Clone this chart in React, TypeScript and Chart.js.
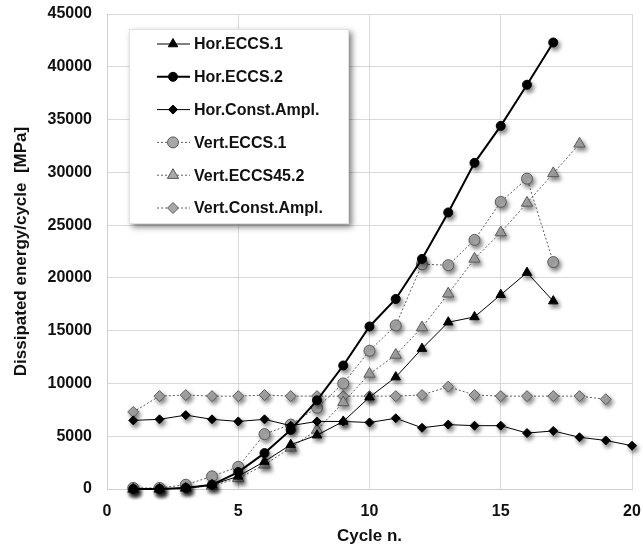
import { useEffect, useRef } from 'react';
import { Chart, registerables } from 'chart.js';
import { drawPoint } from 'chart.js/helpers';

Chart.register(...registerables);

const cycles = [1, 2, 3, 4, 5, 6, 7, 8, 9, 10, 11, 12, 13, 14, 15, 16, 17, 18, 19, 20];

const horECCS1 = [0, 0, 100, 400, 1200, 2600, 4200, 5100, 6400, 8700, 10600, 13300, 15800, 16300, 18400, 20500, 17800];
const horECCS2 = [0, 0, 100, 400, 1600, 3400, 5600, 8400, 11700, 15400, 18000, 21800, 26200, 30900, 34400, 38300, 42300];
const horConst = [6500, 6600, 7000, 6600, 6400, 6600, 6000, 6400, 6400, 6300, 6700, 5800, 6100, 6000, 6000, 5300, 5500, 4900, 4600, 4100];
const vertECCS1 = [100, 100, 400, 1200, 2100, 5200, 6100, 7700, 10000, 13100, 15500, 21300, 21200, 23600, 27200, 29400, 21500];
const vertECCS452 = [0, 0, 100, 300, 1000, 2300, 3900, 5600, 8200, 10900, 12700, 15300, 18500, 21800, 24300, 27100, 29900, 32700];
const vertConst = [7300, 8800, 8900, 8800, 8800, 8900, 8800, 8800, 8800, 8800, 8800, 8900, 9700, 8900, 8800, 8800, 8800, 8800, 8500];

const seriesLabels = ['Hor.ECCS.1', 'Hor.ECCS.2', 'Hor.Const.Ampl.', 'Vert.ECCS.1', 'Vert.ECCS45.2', 'Vert.Const.Ampl.'];

const xTitle = 'Cycle n.';
const yTitle = 'Dissipated energy/cycle  [MPa]';

const FONT = "'Liberation Sans', Arial, sans-serif";
const TEXT = '#111111';
const GRAY_FILL = '#a8a8a8';
const GRAY_EDGE = '#5a5a5a';

const toPoints = (vals: number[]) => vals.map((v, i) => ({ x: cycles[i], y: v }));

const shadowPlugin = {
  id: 'markerShadow',
  beforeDatasetDraw(chart: any, args: any) {
    (args.meta.data || []).forEach((el: any) => {
      if (el.__shadowed) return;
      const orig = el.draw.bind(el);
      el.draw = (ctx: CanvasRenderingContext2D, area: any) => {
        ctx.save();
        ctx.shadowColor = 'rgba(0,0,0,0.5)';
        ctx.shadowBlur = 4;
        ctx.shadowOffsetX = 2;
        ctx.shadowOffsetY = 3;
        orig(ctx, area);
        ctx.restore();
      };
      el.__shadowed = true;
    });
  },
};

const legendPlugin = {
  id: 'insideLegend',
  afterDraw(chart: any) {
    const ctx: CanvasRenderingContext2D = chart.ctx;
    const area = chart.chartArea;
    const x0 = area.left + 22;
    const y0 = area.top + 15;
    const w = 220;
    const h = 195;
    ctx.save();
    ctx.shadowColor = 'rgba(0,0,0,0.5)';
    ctx.shadowBlur = 6;
    ctx.shadowOffsetX = 3;
    ctx.shadowOffsetY = 3;
    ctx.fillStyle = '#ffffff';
    ctx.fillRect(x0, y0, w, h);
    ctx.restore();
    ctx.save();
    ctx.strokeStyle = '#e2e2e2';
    ctx.lineWidth = 1;
    ctx.strokeRect(x0 + 0.5, y0 + 0.5, w - 1, h - 1);
    ctx.restore();

    chart.data.datasets.forEach((ds: any, i: number) => {
      const cy = y0 + 15 + i * 32.8;
      const lx1 = x0 + 28;
      const lx2 = x0 + 61;
      const mx = x0 + 44;
      ctx.save();
      ctx.strokeStyle = ds.borderColor;
      ctx.lineWidth = ds.borderWidth;
      ctx.setLineDash(ds.borderDash || []);
      ctx.beginPath();
      ctx.moveTo(lx1, cy);
      ctx.lineTo(lx2, cy);
      ctx.stroke();
      ctx.setLineDash([]);
      ctx.fillStyle = ds.pointBackgroundColor;
      ctx.strokeStyle = ds.pointBorderColor;
      ctx.lineWidth = ds.pointBorderWidth;
      drawPoint(ctx, { pointStyle: ds.pointStyle, radius: ds.pointRadius, rotation: 0, borderWidth: ds.pointBorderWidth } as any, mx, cy);
      ctx.fillStyle = TEXT;
      ctx.font = `bold 16px ${FONT}`;
      ctx.textBaseline = 'middle';
      ctx.textAlign = 'left';
      ctx.fillText(ds.label, x0 + 65, cy + 1);
      ctx.restore();
    });
  },
};

export default function App() {
  const ref = useRef<HTMLCanvasElement | null>(null);

  useEffect(() => {
    document.body.style.margin = '0';
    if (!ref.current) return;
    const black = (label: string, vals: number[], style: string, r: number, lw: number) => ({
      label,
      data: toPoints(vals),
      borderColor: '#000000',
      borderWidth: lw,
      pointStyle: style,
      pointRadius: r,
      pointBackgroundColor: '#000000',
      pointBorderColor: '#000000',
      pointBorderWidth: 1,
      tension: 0,
      clip: false as any,
    });
    const gray = (label: string, vals: number[], style: string, r: number) => ({
      label,
      data: toPoints(vals),
      borderColor: '#5f5f5f',
      borderWidth: 1,
      borderDash: [2, 2],
      pointStyle: style,
      pointRadius: r,
      pointBackgroundColor: GRAY_FILL,
      pointBorderColor: GRAY_EDGE,
      pointBorderWidth: 1,
      tension: 0,
      clip: false as any,
    });

    const chart = new Chart(ref.current, {
      type: 'line',
      data: {
        datasets: [
          black(seriesLabels[0], horECCS1, 'triangle', 5.5, 1),
          black(seriesLabels[1], horECCS2, 'circle', 4.5, 2),
          black(seriesLabels[2], horConst, 'rectRot', 4.5, 1),
          gray(seriesLabels[3], vertECCS1, 'circle', 5.5),
          gray(seriesLabels[4], vertECCS452, 'triangle', 6.5),
          gray(seriesLabels[5], vertConst, 'rectRot', 5.5),
        ] as any,
      },
      options: {
        animation: false,
        responsive: false,
        maintainAspectRatio: false,
        layout: { autoPadding: false, padding: { top: 14, right: 11, left: 0, bottom: 0 } },
        plugins: {
          legend: { display: false },
          tooltip: { enabled: false },
        },
        scales: {
          x: {
            type: 'linear',
            min: 0,
            max: 20,
            ticks: {
              stepSize: 5,
              padding: 13,
              color: TEXT,
              font: { family: FONT, size: 16, weight: 'bold' },
            },
            grid: { color: '#d9d9d9', drawTicks: false },
            border: { color: '#cfcfcf' },
            title: {
              display: true,
              text: xTitle,
              color: TEXT,
              font: { family: FONT, size: 17, weight: 'bold' },
              padding: { top: 0, bottom: 5 },
            },
            afterFit(scale: any) {
              scale.height = 63;
              scale.paddingLeft = 0;
              scale.paddingRight = 0;
            },
          },
          y: {
            type: 'linear',
            min: 0,
            max: 45000,
            ticks: {
              stepSize: 5000,
              padding: 15,
              color: TEXT,
              font: { family: FONT, size: 16, weight: 'bold' },
              callback: (v: any) => String(v),
            },
            grid: { color: '#d9d9d9', drawTicks: false },
            border: { color: '#cfcfcf' },
            title: {
              display: true,
              text: yTitle,
              color: TEXT,
              font: { family: FONT, size: 17, weight: 'bold' },
              padding: { top: 11, bottom: 0 },
            },
            afterFit(scale: any) {
              scale.width = 107;
              scale.paddingTop = 0;
              scale.paddingBottom = 0;
            },
          },
        },
      } as any,
      plugins: [shadowPlugin, legendPlugin],
    });
    return () => chart.destroy();
  }, []);

  return <canvas ref={ref} width={643} height={552} style={{ display: 'block' }} />;
}
